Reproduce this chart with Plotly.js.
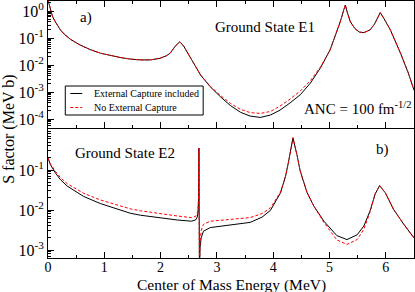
<!DOCTYPE html>
<html>
<head>
<meta charset="utf-8">
<script src="https://cdn.plot.ly/plotly-3.0.1.min.js"></script>
<style>html,body{margin:0;padding:0;background:#fff;}#chart{width:415px;height:292px;}</style>
</head>
<body>
<div id="chart"></div>
<script>
// ---- Panel a) Ground State E1 ----
var e1Energy = [0, 0.02, 0.04, 0.08, 0.13, 0.22, 0.30, 0.40, 0.57, 0.75, 0.93, 1.10, 1.28, 1.46, 1.64, 1.82, 1.99, 2.10, 2.17, 2.26, 2.34, 2.41, 2.53, 2.71, 2.88, 3.06, 3.24, 3.42, 3.59, 3.77, 3.95, 4.12, 4.30, 4.48, 4.66, 4.84, 5.01, 5.10, 5.19, 5.25, 5.28, 5.32, 5.37, 5.45, 5.53, 5.61, 5.72, 5.80, 5.86, 5.90, 5.95, 6.08, 6.26, 6.40, 6.50];
var e1WithEC = [2.51, 1.66, 1.10, 0.631, 0.398, 0.200, 0.132, 0.0891, 0.0550, 0.0372, 0.0275, 0.0224, 0.0191, 0.0166, 0.0155, 0.0155, 0.0178, 0.0219, 0.0275, 0.0501, 0.0724, 0.0501, 0.0182, 0.00427, 0.00158, 6.76e-4, 3.16e-4, 1.78e-4, 1.29e-4, 1.15e-4, 1.41e-4, 2.14e-4, 3.98e-4, 7.94e-4, 0.00214, 0.00794, 0.0363, 0.112, 0.398, 1.05, 1.66, 0.832, 0.398, 0.224, 0.166, 0.158, 0.200, 0.331, 0.631, 0.871, 0.603, 0.200, 0.0275, 0.00501, 0.00117];
var e1NoEC = [2.51, 1.66, 1.10, 0.631, 0.398, 0.200, 0.132, 0.0891, 0.0550, 0.0372, 0.0275, 0.0224, 0.0191, 0.0166, 0.0155, 0.0155, 0.0178, 0.0219, 0.0275, 0.0501, 0.0724, 0.0501, 0.0182, 0.00427, 0.00166, 7.59e-4, 3.80e-4, 2.29e-4, 1.74e-4, 1.62e-4, 1.91e-4, 3.02e-4, 5.50e-4, 0.00110, 0.00263, 0.00851, 0.0363, 0.112, 0.398, 1.05, 1.66, 0.832, 0.398, 0.224, 0.166, 0.158, 0.200, 0.331, 0.631, 0.871, 0.603, 0.200, 0.0275, 0.00501, 0.00117];

// ---- Panel b) Ground State E2 ----
var e2Energy = [0, 0.04, 0.13, 0.22, 0.34, 0.63, 0.93, 1.23, 1.46, 1.64, 2.00, 2.30, 2.55, 2.62, 2.65, 2.665, 2.675, 2.68, 2.685, 2.69, 2.695, 2.70, 2.72, 2.76, 2.88, 3.20, 3.59, 3.80, 3.95, 4.13, 4.22, 4.27, 4.35, 4.42, 4.48, 4.60, 4.72, 4.90, 5.13, 5.31, 5.49, 5.61, 5.72, 5.81, 5.89, 5.99, 6.14, 6.32, 6.50];
var e2WithEC = [0.200, 0.138, 0.0851, 0.0575, 0.0398, 0.0219, 0.0145, 0.0107, 0.00832, 0.00741, 0.00631, 0.00562, 0.00525, 0.00562, 0.00661, 0.00891, 0.0200, 0.355, 0.00316, 2.51e-4, 5.01e-4, 0.00112, 0.00200, 0.00295, 0.00363, 0.00417, 0.00490, 0.00661, 0.00977, 0.0269, 0.0708, 0.155, 0.638, 0.245, 0.0933, 0.0275, 0.0126, 0.00525, 0.00229, 0.00182, 0.00240, 0.00398, 0.00955, 0.0251, 0.0407, 0.0269, 0.0102, 0.00437, 0.00200];
var e2NoEC = [0.200, 0.145, 0.0933, 0.0646, 0.0457, 0.0263, 0.0178, 0.0135, 0.0107, 0.00955, 0.00794, 0.00708, 0.00646, 0.00692, 0.00813, 0.0110, 0.0240, 0.355, 0.00316, 2.51e-4, 6.31e-4, 0.00158, 0.00302, 0.00437, 0.00525, 0.00575, 0.00646, 0.00813, 0.0112, 0.0282, 0.0708, 0.155, 0.638, 0.245, 0.0933, 0.0275, 0.0126, 0.00490, 0.00178, 0.00138, 0.00182, 0.00331, 0.00891, 0.0251, 0.0407, 0.0269, 0.0102, 0.00437, 0.00200];

var xTickVals = [0, 1, 2, 3, 4, 5, 6];
var yTickValsTop = [1e-4, 1e-3, 1e-2, 1e-1, 1];
var yTickTextTop = ['10<sup>-4</sup>', '10<sup>-3</sup>', '10<sup>-2</sup>', '10<sup>-1</sup>', '10<sup>0</sup>'];
var yTickValsBot = [1e-3, 1e-2, 1e-1];
var yTickTextBot = ['10<sup>-3</sup>', '10<sup>-2</sup>', '10<sup>-1</sup>'];
var seriesNames = ['External Capture included', 'No External Capture'];

function minorLog(lo, hi) {
  var v = [];
  for (var d = lo; d <= hi; d++) {
    for (var k = 2; k <= 9; k++) v.push(k * Math.pow(10, d));
  }
  return v;
}

var FONT = 'Liberation Serif, Times New Roman, serif';
var BLACK_LINE = {color: '#000000', width: 1};
var RED_LINE = {color: '#ff0000', width: 1, dash: '3px,2px'};

var traces = [
  {x: e1Energy, y: e1WithEC, xaxis: 'x2', yaxis: 'y2', mode: 'lines', name: seriesNames[0], line: BLACK_LINE},
  {x: e1Energy, y: e1NoEC, xaxis: 'x2', yaxis: 'y2', mode: 'lines', name: seriesNames[1], line: RED_LINE},
  {x: e2Energy, y: e2WithEC, xaxis: 'x', yaxis: 'y', mode: 'lines', name: seriesNames[0], line: BLACK_LINE},
  {x: e2Energy, y: e2NoEC, xaxis: 'x', yaxis: 'y', mode: 'lines', name: seriesNames[1], line: RED_LINE}
];

var axisCommon = {
  showline: true, linecolor: '#000', linewidth: 1, showgrid: false, zeroline: false,
  ticks: 'inside', tickcolor: '#000', tickwidth: 1, ticklabeloverflow: 'allow'
};

var pl = 47.7, pr = 414, pt = 1, pb = 258, pw = pr - pl, ph = pb - pt;
function px(x) { return (x - pl) / pw; }
function py(y) { return (pb - y) / ph; }
var split = 130 / 257;

function note(text, x, y, size, extra) {
  return Object.assign({text: text, xref: 'paper', yref: 'paper', x: px(x), y: py(y),
    xanchor: 'center', yanchor: 'middle', showarrow: false,
    font: {family: FONT, size: size, color: '#000'}}, extra || {});
}

// legend (drawn as decoration)
var lg = {x0: 65, x1: 203, y0: 86, y1: 115, row1: 93.5, row2: 107.5, lx0: 70, lx1: 82, tx: 92};

var layout = {
  width: 415, height: 292,
  margin: {l: 48, r: 1, t: 1, b: 34, pad: 0},
  paper_bgcolor: '#fff', plot_bgcolor: '#fff',
  font: {family: FONT, size: 16, color: '#000'},
  showlegend: false,
  xaxis: Object.assign({}, axisCommon, {
    domain: [0, 1], anchor: 'y', range: [0, 6.5], tickvals: xTickVals, ticklen: 6, mirror: false,
    minor: {dtick: 0.5, tick0: 0, ticks: 'inside', ticklen: 3, tickcolor: '#000'},
    tickfont: {family: FONT, size: 14}, ticklabelstandoff: -4
  }),
  xaxis2: Object.assign({}, axisCommon, {
    domain: [0, 1], anchor: 'y2', range: [0, 6.5], tickvals: xTickVals, ticklen: 6, mirror: 'ticks',
    minor: {dtick: 0.5, tick0: 0, ticks: 'inside', ticklen: 3, tickcolor: '#000'},
    showticklabels: false, matches: 'x'
  }),
  yaxis: Object.assign({}, axisCommon, {
    domain: [0, split], anchor: 'x', type: 'log', range: [-3.2, 0.05], mirror: true,
    tickvals: yTickValsBot, ticktext: yTickTextBot, ticklen: 6,
    minor: {tickvals: minorLog(-4, 0), ticks: 'inside', ticklen: 3, tickcolor: '#000'},
    tickfont: {family: FONT, size: 16}
  }),
  yaxis2: Object.assign({}, axisCommon, {
    domain: [split, 1], anchor: 'x2', type: 'log', range: [-4.33, 0.37], mirror: true,
    tickvals: yTickValsTop, ticktext: yTickTextTop, ticklen: 6,
    minor: {tickvals: minorLog(-5, 0), ticks: 'inside', ticklen: 3, tickcolor: '#000'},
    tickfont: {family: FONT, size: 16}
  }),
  shapes: [
    {type: 'rect', xref: 'paper', yref: 'paper', x0: px(lg.x0), x1: px(lg.x1), y0: py(lg.y1), y1: py(lg.y0),
     line: {color: '#000', width: 1}, fillcolor: '#fff', layer: 'above'},
    {type: 'line', xref: 'paper', yref: 'paper', x0: px(lg.lx0), x1: px(lg.lx1), y0: py(lg.row1), y1: py(lg.row1),
     line: BLACK_LINE, layer: 'above'},
    {type: 'line', xref: 'paper', yref: 'paper', x0: px(lg.lx0), x1: px(lg.lx1), y0: py(lg.row2), y1: py(lg.row2),
     line: RED_LINE, layer: 'above'}
  ],
  annotations: [
    note(seriesNames[0], lg.tx, lg.row1, 10, {xanchor: 'left'}),
    note(seriesNames[1], lg.tx, lg.row2, 10, {xanchor: 'left'}),
    note('a)', 86, 18, 15),
    note('Ground State E1', 265, 27, 15),
    note('ANC = 100 fm<sup>-1/2</sup>', 413, 108, 15, {xanchor: 'right'}),
    note('Ground State E2', 125, 153, 15),
    note('b)', 382, 149, 15),
    note('S factor (MeV b)', 8, 129.5, 16, {textangle: -90}),
    note('Center of Mass Energy (MeV)', 231, 284.5, 15.5)
  ]
};

Plotly.newPlot('chart', traces, layout, {displayModeBar: false, staticPlot: true});
</script>
</body>
</html>
